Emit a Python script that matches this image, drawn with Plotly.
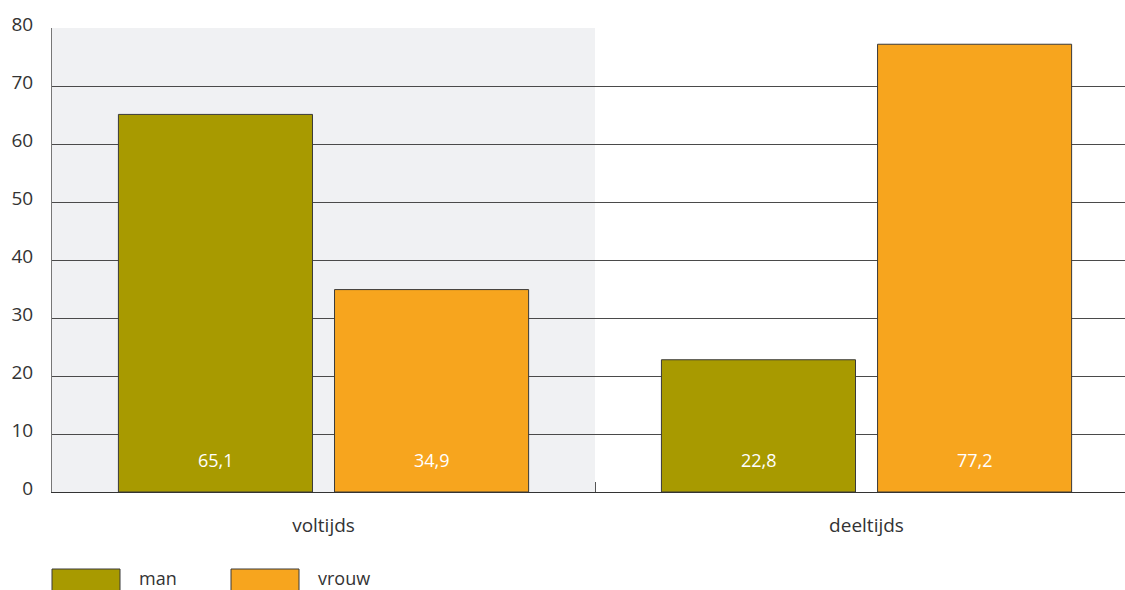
import plotly.graph_objects as go

categories = ["voltijds", "deeltijds"]
series_names = ["man", "vrouw"]
man_values = [65.1, 22.8]
vrouw_values = [34.9, 77.2]
series_values = [man_values, vrouw_values]
colors = ["#A89A00", "#F7A51E"]
y_ticks = [0, 10, 20, 30, 40, 50, 60, 70, 80]

FONT = "Open Sans"
TXT = "#333333"

W, H = 1125, 590
ML, MT, MB = 52, 28, 98
PW, PH = W - ML, H - MT - MB  # plot area in px

fig = go.Figure()
for name, vals, col in zip(series_names, series_values, colors):
    fig.add_trace(go.Bar(
        x=categories, y=vals, name=name,
        marker=dict(color=col, line=dict(color="#3a3a3a", width=1)),
        showlegend=False, hoverinfo="x+y+name",
    ))

# value labels inside bars, near the base
offsets = [-108, 108]
for vals, off in zip(series_values, offsets):
    for cat, v in zip(categories, vals):
        fig.add_annotation(
            x=cat, y=5.5, xref="x", yref="y", xshift=off,
            text=f"{v:.1f}".replace(".", ","), showarrow=False,
            font=dict(family=FONT, size=18, color="white"),
        )

# grey band behind first category
fig.add_shape(type="rect", xref="x", yref="y", x0=-0.5, x1=0.5, y0=0, y1=80,
              fillcolor="#F0F1F3", line=dict(width=0), layer="below")

# custom legend (page px -> paper coords)
def px_x(px):
    return (px - ML) / PW

def px_y(py):
    return (MT + PH - py) / PH

legend_x = [52, 231]
for x0, name, col in zip(legend_x, series_names, colors):
    fig.add_shape(type="rect", xref="paper", yref="paper",
                  x0=px_x(x0), x1=px_x(x0 + 68),
                  y0=px_y(594), y1=px_y(569),
                  fillcolor=col, line=dict(color="#3a3a3a", width=1))
    fig.add_annotation(xref="paper", yref="paper", x=px_x(x0 + 85),
                       y=px_y(578), text=name, showarrow=False,
                       xanchor="left", yanchor="middle",
                       font=dict(family=FONT, size=18, color=TXT))

fig.update_layout(
    width=W, height=H,
    margin=dict(l=ML, r=0, t=MT, b=MB, pad=0),
    paper_bgcolor="white", plot_bgcolor="white",
    barmode="group", bargap=0.204, bargroupgap=0.102,
    font=dict(family=FONT, size=19, color=TXT),
    xaxis=dict(range=[-0.5, 1.476], showgrid=False, showline=True,
               linecolor="#333", linewidth=1, ticks="inside", ticklen=10,
               tickcolor="#555", tickson="boundaries",
               ticklabelstandoff=16, tickfont=dict(size=19, color=TXT)),
    yaxis=dict(range=[0, 80], tickvals=y_ticks, showgrid=True,
               gridcolor="#4a4a4a", gridwidth=1, showline=True,
               linecolor="#777", linewidth=1, ticks="", zeroline=False,
               ticklabelstandoff=14, ticklabelshift=-4,
               tickfont=dict(size=19, color=TXT)),
)

fig.write_html(
    "out.html",
    config={"displayModeBar": False},
    post_script="document.body.style.margin='0';document.body.style.overflow='hidden';",
)
